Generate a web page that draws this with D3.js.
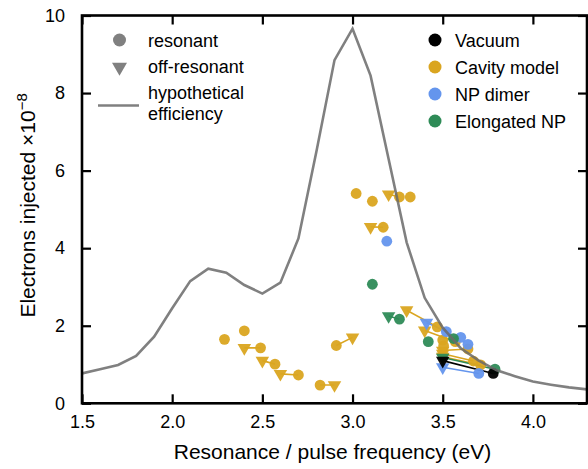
<!DOCTYPE html>
<html><head><meta charset="utf-8">
<script src="https://cdn.jsdelivr.net/npm/d3@7"></script>
<style>
html,body{margin:0;padding:0;background:#fff;}
text{font-family:"Liberation Sans",Arial,Helvetica,sans-serif;fill:#000;}
</style></head>
<body><svg id="c" width="588" height="469"></svg>
<script>
// ---- data ----
const effX = [1.5,1.6,1.7,1.8,1.9,2.0,2.1,2.2,2.3,2.4,2.5,2.6,2.7,2.8,2.9,3.0,3.1,3.2,3.3,3.4,3.5,3.6,3.7,3.8,3.9,4.0,4.1,4.2,4.3];
const effY = [0.77,0.88,0.99,1.22,1.72,2.45,3.15,3.47,3.37,3.05,2.83,3.11,4.25,6.5,8.85,9.66,8.45,6.3,4.15,2.72,1.95,1.42,1.1,0.85,0.7,0.56,0.48,0.41,0.36];

// resonant points [eV, electrons]; off-resonant partner index-aligned (null = none)
const cavityRes = [[2.29,1.65],[2.40,1.87],[2.49,1.43],[2.57,1.01],[2.70,0.73],[2.82,0.47],[2.91,1.49],[3.02,5.41],[3.11,5.21],[3.26,5.32],[3.32,5.32],[3.17,4.54],[3.47,1.97],[3.57,1.59],[3.50,1.63],[3.505,1.48],[3.64,1.40],[3.67,1.09],[3.71,0.99]];
const cavityOff = [null,null,[2.40,1.43],[2.50,1.10],[2.60,0.76],[2.90,0.47],[3.00,1.70],null,null,[3.20,5.39],null,[3.10,4.55],[3.30,2.40],[3.40,1.88],null,null,[3.50,1.36],[3.50,1.28],[3.50,1.20]];
const dimerRes = [[3.19,4.18],[3.52,1.85],[3.60,1.70],[3.64,1.52],[3.70,0.77]];
const dimerOff = [null,[3.41,2.08],null,null,[3.50,0.93]];
const elongRes = [[3.11,3.07],[3.26,2.17],[3.42,1.59],[3.56,1.67],[3.79,0.88]];
const elongOff = [null,[3.20,2.25],null,null,[3.50,1.18]];
const vacuumRes = [[3.78,0.77]];
const vacuumOff = [[3.50,1.10]];

const seriesNames = ["Vacuum","Cavity model","NP dimer","Elongated NP"];
const seriesColors = ["#000000","#DAA520","#6495ED","#2E8B57"];
const xTicks = [1.5,2.0,2.5,3.0,3.5,4.0];
const yTicks = [0,2,4,6,8,10];

// ---- layout ----
const L=82, R=587, T=15.5, B=403.3;
const svg = d3.select("#c");
const x = d3.scaleLinear().domain([1.5,4.3]).range([L,R]);
const y = d3.scaleLinear().domain([0,10]).range([B,T]);

const plot = svg.append("g");
svg.append("clipPath").attr("id","clip").append("rect").attr("x",L).attr("y",T).attr("width",R-L).attr("height",B-T);

const tri = (s)=>{const h=s*0.866;return `M${-s/2},${-h/3}L${s/2},${-h/3}L0,${2*h/3}Z`;};

// draw order: cavity, dimer, elongated, vacuum
const draw = [
  {res:cavityRes, off:cavityOff, color:seriesColors[1]},
  {res:dimerRes, off:dimerOff, color:seriesColors[2]},
  {res:elongRes, off:elongOff, color:seriesColors[3]},
  {res:vacuumRes, off:vacuumOff, color:seriesColors[0]},
];
const mk = plot.append("g").attr("clip-path","url(#clip)");
draw.forEach(s=>{
  const pairs = s.res.map((r,i)=>[r,s.off[i]]).filter(p=>p[1]);
  mk.append("g").selectAll("line").data(pairs).join("line")
    .attr("x1",d=>x(d[0][0])).attr("y1",d=>y(d[0][1]))
    .attr("x2",d=>x(d[1][0])).attr("y2",d=>y(d[1][1]))
    .attr("stroke",s.color).attr("stroke-width",1.6);
});
draw.forEach(s=>{
  mk.append("g").selectAll("path").data(s.off.filter(d=>d)).join("path")
    .attr("d",tri(13.5)).attr("transform",d=>`translate(${x(d[0])},${y(d[1])})`)
    .attr("fill",s.color).attr("fill-opacity",0.95);
  mk.append("g").selectAll("circle").data(s.res).join("circle")
    .attr("cx",d=>x(d[0])).attr("cy",d=>y(d[1])).attr("r",5.4)
    .attr("fill",s.color).attr("fill-opacity",0.95);
});

// efficiency curve
mk.append("path").datum(effX.map((v,i)=>[v,effY[i]]))
  .attr("d",d3.line().x(d=>x(d[0])).y(d=>y(d[1])))
  .attr("fill","none").attr("stroke","#6a6a6a").attr("stroke-opacity",0.85).attr("stroke-width",2.6);

// axes
const tl=9;
const ax = svg.append("g");
ax.append("g").attr("transform",`translate(0,${B})`).call(d3.axisBottom(x).tickValues(xTicks).tickFormat(d3.format(".1f")).tickSize(-tl).tickPadding(12));
ax.append("g").attr("transform",`translate(0,${T})`).call(d3.axisTop(x).tickValues(xTicks).tickFormat("").tickSize(-tl));
ax.append("g").attr("transform",`translate(${L},0)`).call(d3.axisLeft(y).tickValues(yTicks).tickFormat(d3.format("d")).tickSize(-tl).tickPadding(17));
ax.append("g").attr("transform",`translate(${R},0)`).call(d3.axisRight(y).tickValues(yTicks).tickFormat("").tickSize(-tl));
ax.selectAll(".domain").remove();
ax.selectAll(".tick line").attr("stroke","#000").attr("stroke-width",2.2);
ax.selectAll(".tick text").attr("font-size",18).attr("font-family","Liberation Sans, Arial, sans-serif").attr("fill","#000");
svg.append("rect").attr("x",L).attr("y",T).attr("width",R-L).attr("height",B-T)
  .attr("fill","none").attr("stroke","#000").attr("stroke-width",2.6);

// titles
svg.append("text").attr("x",(L+R)/2-2).attr("y",459).attr("text-anchor","middle").attr("font-size",21)
  .text("Resonance / pulse frequency (eV)");
const yt = svg.append("text").attr("transform",`translate(35,${(T+B)/2-4}) rotate(-90)`).attr("text-anchor","middle").attr("font-size",21);
yt.append("tspan").text("Electrons injected \u00d710");
yt.append("tspan").attr("font-size",15).attr("dy",-8).text("\u22128");

// legend left
const lg = svg.append("g");
lg.append("circle").attr("cx",119.5).attr("cy",40).attr("r",6.5).attr("fill","#808080");
lg.append("text").attr("x",148).attr("y",46.5).attr("font-size",18).text("resonant");
lg.append("path").attr("d",tri(15)).attr("transform","translate(119.5,67)").attr("fill","#808080");
lg.append("text").attr("x",148).attr("y",73).attr("font-size",18).text("off-resonant");
lg.append("line").attr("x1",98).attr("x2",139).attr("y1",105.5).attr("y2",105.5).attr("stroke","#808080").attr("stroke-width",2.6);
lg.append("text").attr("x",148).attr("y",99).attr("font-size",18).text("hypothetical");
lg.append("text").attr("x",148).attr("y",120).attr("font-size",18).text("efficiency");

// legend right
const lr = svg.append("g");
seriesNames.forEach((n,i)=>{
  const cy = 40+i*27;
  lr.append("circle").attr("cx",435).attr("cy",cy).attr("r",6.5).attr("fill",seriesColors[i]);
  lr.append("text").attr("x",455).attr("y",cy+6.5).attr("font-size",18).text(n);
});
</script></body></html>
